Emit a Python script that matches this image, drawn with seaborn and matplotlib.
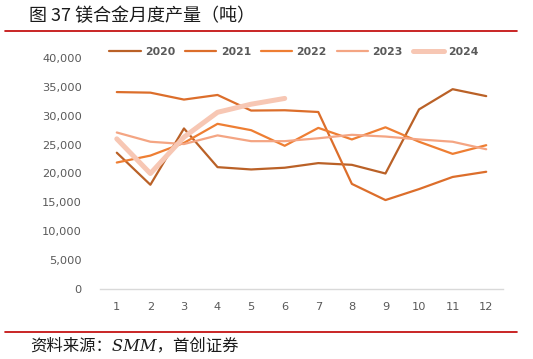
import pandas as pd
import matplotlib
matplotlib.use("Agg")
import matplotlib.pyplot as plt
import seaborn as sns
from matplotlib.lines import Line2D
from matplotlib.ticker import FuncFormatter

# --- data (tonnes) ---
months = list(range(1, 13))
y2020 = [23600, 18050, 27800, 21100, 20700, 21000, 21800, 21500, 20000, 31100, 34600, 33400]
y2021 = [34100, 34000, 32800, 33600, 30900, 30950, 30650, 18200, 15400, 17300, 19400, 20300]
y2022 = [21900, 23100, 25300, 28600, 27500, 24800, 27900, 25900, 28000, 25500, 23400, 24900]
y2023 = [27100, 25500, 25100, 26600, 25600, 25600, 26100, 26700, 26400, 25900, 25500, 24200]
y2024 = [26000, 20000, 26300, 30600, 32000, 33000]

series = {"2020": y2020, "2021": y2021, "2022": y2022, "2023": y2023, "2024": y2024}
colors = {"2020": "#BA6127", "2021": "#DC6E2B", "2022": "#EE7E33",
          "2023": "#F4A583", "2024": "#F7C7B4"}
widths = {"2020": 1.6, "2021": 1.6, "2022": 1.6, "2023": 1.6, "2024": 3.6}

rows = []
for yr, vals in series.items():
    for m, v in zip(months, vals):
        rows.append({"month": m, "year": yr, "value": v})
df = pd.DataFrame(rows)

sns.set_style("white")
plt.rcParams['font.family'] = ['Noto Sans CJK SC', 'DejaVu Sans']

W, H = 533, 359
fig = plt.figure(figsize=(W / 100, H / 100), dpi=100)
ax = fig.add_axes([100 / W, (H - 289) / H, 403 / W, 231 / H])

for yr in series:
    sns.lineplot(data=df[df["year"] == yr], x="month", y="value", ax=ax,
                 color=colors[yr], linewidth=widths[yr], legend=False)

ax.set_xlim(0.5, 12.5)
ax.set_ylim(0, 40000)
ax.set_xticks(months)
ax.set_yticks(range(0, 40001, 5000))
ax.yaxis.set_major_formatter(FuncFormatter(lambda v, p: f"{int(v):,}"))
ax.set_xlabel("")
ax.set_ylabel("")
for s in ["top", "right", "left"]:
    ax.spines[s].set_visible(False)
ax.spines["bottom"].set_color("#D9D9D9")
ax.spines["bottom"].set_linewidth(1.0)
ax.tick_params(axis="both", length=0, labelsize=8.2, colors="#595959")
ax.tick_params(axis="y", pad=13)
ax.tick_params(axis="x", pad=9)
for lab in ax.get_xticklabels() + ax.get_yticklabels():
    lab.set_family("DejaVu Sans")
ax.grid(False)

handles = [Line2D([0], [0], color=colors[yr], linewidth=widths[yr]) for yr in series]
leg = fig.legend(handles, list(series.keys()), loc="center", ncol=5,
                 bbox_to_anchor=(294 / W, 1 - 52 / H), frameon=False,
                 prop={"family": "DejaVu Sans", "weight": "bold", "size": 7.8},
                 handlelength=2.9, columnspacing=0.9, handletextpad=0.4)
for t in leg.get_texts():
    t.set_color("#595959")

# title and source with red rules
fig.text(29 / W, 1 - 16 / H, "图 37 镁合金月度产量（吨）", fontsize=13,
         color="#1a1a1a", va="center", ha="left")
fig.add_artist(Line2D([5 / W, 517 / W], [1 - 31 / H, 1 - 31 / H], color="#C00000", linewidth=1.2))
fig.add_artist(Line2D([5 / W, 517 / W], [1 - 332 / H, 1 - 332 / H], color="#C00000", linewidth=1.2))
fig.text(30 / W, 1 - 346 / H, "资料来源：SMM，首创证券", fontsize=11.8, style="italic",
         family=["DejaVu Serif", "Noto Sans CJK SC"],
         color="#1a1a1a", va="center", ha="left")

fig.savefig("out.png", dpi=100)
